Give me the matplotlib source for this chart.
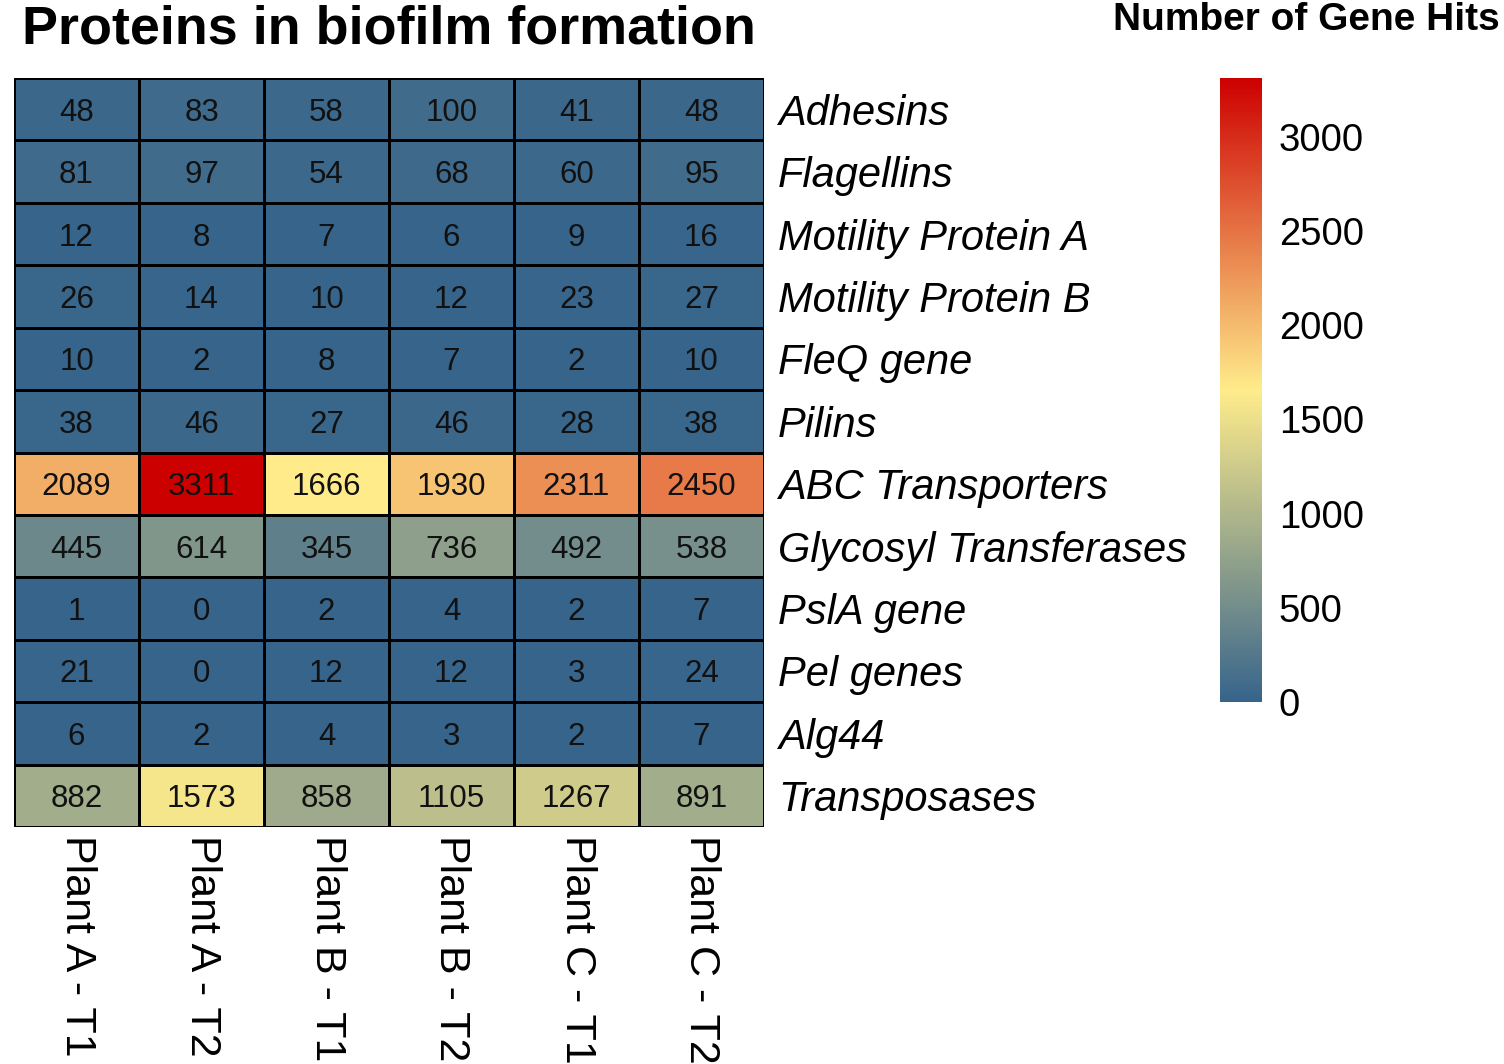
import numpy as np
import matplotlib
matplotlib.use("Agg")
import matplotlib.pyplot as plt
from matplotlib.colors import LinearSegmentedColormap

plt.rcParams['font.family'] = ['Liberation Sans', 'DejaVu Sans']

samples = ["Plant A - T1", "Plant A - T2", "Plant B - T1",
           "Plant B - T2", "Plant C - T1", "Plant C - T2"]
proteins = ["Adhesins", "Flagellins", "Motility Protein A", "Motility Protein B",
            "FleQ gene", "Pilins", "ABC Transporters", "Glycosyl Transferases",
            "PslA gene", "Pel genes", "Alg44", "Transposases"]

adhesins = [48, 83, 58, 100, 41, 48]
flagellins = [81, 97, 54, 68, 60, 95]
mot_a = [12, 8, 7, 6, 9, 16]
mot_b = [26, 14, 10, 12, 23, 27]
fleq = [10, 2, 8, 7, 2, 10]
pilins = [38, 46, 27, 46, 28, 38]
abc = [2089, 3311, 1666, 1930, 2311, 2450]
glyco = [445, 614, 345, 736, 492, 538]
psla = [1, 0, 2, 4, 2, 7]
pel = [21, 0, 12, 12, 3, 24]
alg44 = [6, 2, 4, 3, 2, 7]
transposases = [882, 1573, 858, 1105, 1267, 891]

cbar_ticks = [0, 500, 1000, 1500, 2000, 2500, 3000]

data = np.array([adhesins, flagellins, mot_a, mot_b, fleq, pilins,
                 abc, glyco, psla, pel, alg44, transposases])

cmap = LinearSegmentedColormap.from_list("gh", ["#36648B", "#FFEC8B", "#CD0000"], N=256)
vmax = data.max()

W, H = 1504, 1064
fig = plt.figure(figsize=(W / 100, H / 100), dpi=100)

ax = fig.add_axes([14 / W, 1 - 827 / H, 750 / W, 749 / H])
mesh = ax.pcolormesh(data, cmap=cmap, vmin=0, vmax=vmax,
                     edgecolors='black', linewidth=1.9)
ax.set_xlim(0, data.shape[1])
ax.set_ylim(data.shape[0], 0)
for s in ax.spines.values():
    s.set_visible(False)

# cell counts
for i in range(data.shape[0]):
    for j in range(data.shape[1]):
        ax.text(j + 0.5, i + 0.5, str(data[i, j]), ha='center', va='center_baseline',
                fontsize=22.5, color='#111111')

ax.set_xticks(np.arange(len(samples)) + 0.5)
ax.set_xticklabels(samples, rotation=270, fontsize=31, va='top', ha='center')
ax.set_yticks(np.arange(len(proteins)) + 0.5)
ax.set_yticklabels(proteins, fontsize=30, style='italic')
ax.yaxis.tick_right()
ax.tick_params(length=0, pad=10)
ax.tick_params(axis='x', pad=6)

fig.text(22 / W, 1 - 29 / H, "Proteins in biofilm formation", fontsize=38.8,
         fontweight='bold', ha='left', va='center')

cax = fig.add_axes([1220 / W, 1 - 702 / H, 42 / W, 624 / H])
cb = fig.colorbar(mesh, cax=cax, ticks=cbar_ticks)
cb.outline.set_visible(False)
cb.ax.tick_params(length=0, labelsize=27.5, pad=12)

fig.text(1500 / W, 1 - 20 / H, "Number of Gene Hits", fontsize=28,
         fontweight='bold', ha='right', va='center')

plt.savefig('out.png', dpi=100)
